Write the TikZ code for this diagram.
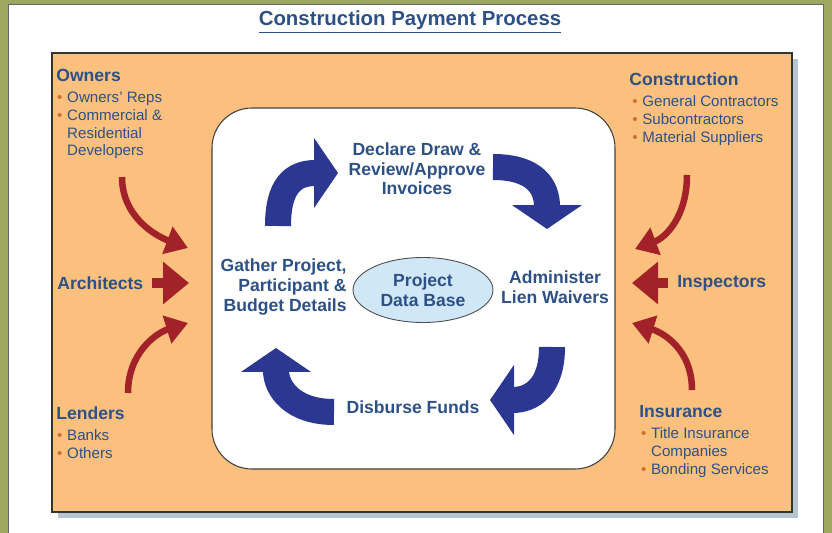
\documentclass[tikz,border=0pt]{standalone}
\usepackage{fontspec}
\setmainfont{Liberation Sans}
\usepackage{xcolor}
\usetikzlibrary{arrows.meta, positioning, shapes.geometric}

\definecolor{bgolive}{HTML}{9EA760}
\definecolor{panelorange}{HTML}{FBC07E}
\definecolor{shadowc}{HTML}{B7C5D2}
\definecolor{txtblue}{HTML}{2D5186}
\definecolor{arrblue}{HTML}{2B3791}
\definecolor{arrred}{HTML}{A3222A}
\definecolor{bulletc}{HTML}{D0702E}
\definecolor{dbblue}{HTML}{CFE7F6}

\newcommand\bul{\makebox[5.7pt][l]{\textcolor{bulletc}{\textbullet}}}
\newcommand\ind{\hspace*{5.7pt}}

\begin{document}
\begin{tikzpicture}[
  x=0.02cm, y=-0.02cm,
  head/.style={font=\fontsize{10}{12}\selectfont\bfseries, text=txtblue, inner sep=0pt},
  list/.style={font=\fontsize{8.6}{10.2}\selectfont, text=txtblue, inner sep=0pt, align=left},
  stage/.style={font=\fontsize{10}{11.2}\selectfont\bfseries, text=txtblue, inner sep=0pt, align=center},
  bluearr/.style={draw=arrblue, line width=0.52cm, -{Triangle[length=0.48cm, width=1.38cm]}},
  redarr/.style={draw=arrred, line width=0.13cm, -{Triangle[length=0.44cm, width=0.56cm]}},
  redfat/.style={draw=arrred, line width=0.2cm, -{Triangle[length=0.52cm, width=0.82cm]}}
]
  \useasboundingbox (0,0) rectangle (832,533);
  % frame
  \fill[bgolive] (0,0) rectangle (832,533);
  \filldraw[fill=white, draw=black!60, line width=0.4pt] (8,4) rectangle (823,540);
  \node[font=\fontsize{11.6}{14}\selectfont\bfseries, text=txtblue] (title) at (410,22)
        {\underline{Construction Payment Process}};

  % panels
  \fill[shadowc] (58,59) rectangle (798,518);
  \filldraw[fill=panelorange, draw=black!80, line width=0.6pt] (52,53) rectangle (792,512);
  \filldraw[fill=white, draw=black!75, line width=0.6pt, rounded corners=0.8cm]
        (212,108) rectangle (615,469);

  % participants
  \node[head, anchor=base west] (owners) at (56,82) {Owners};
  \node[list, below right=5pt and 0.5pt of owners.south west] (ownlist)
        {\bul Owners' Reps\\\bul Commercial \&\\\ind Residential\\\ind Developers};
  \node[head, anchor=base west] (constr) at (629,86) {Construction};
  \node[list, below right=5pt and 1.7pt of constr.south west] (conlist)
        {\bul General Contractors\\\bul Subcontractors\\\bul Material Suppliers};
  \node[head, anchor=base west] (lenders) at (56,420) {Lenders};
  \node[list, below right=5pt and 0.5pt of lenders.south west] (lenlist)
        {\bul Banks\\\bul Others};
  \node[head, anchor=base west] (insur) at (639,418) {Insurance};
  \node[list, below right=5pt and 1pt of insur.south west] (inslist)
        {\bul Title Insurance\\\ind Companies\\\bul Bonding Services};
  \node[head, anchor=west] (arch) at (57,283) {Architects};
  \node[head, anchor=west] (insp) at (677,283) {Inspectors};

  % process steps
  \node[stage] (declare) at (417,169) {Declare Draw \&\\Review/Approve\\Invoices};
  \node[stage, align=right, anchor=east] (gather) at (347,287)
        {Gather Project,\\Participant \&\\Budget Details};
  \node[stage] (admin) at (555,287) {Administer\\Lien Waivers};
  \node[stage] (disburse) at (413,407) {Disburse Funds};
  \node[stage, ellipse, draw=black!70, fill=dbblue, line width=0.5pt,
        minimum width=2.8cm, minimum height=1.3cm] (pdb) at (423,290) {Project\\Data Base};

  % cycle arrows
  \coordinate (c1s) at (278,226); \coordinate (c1e) at (338,173);
  \coordinate (c2s) at (493,167); \coordinate (c2e) at (547,229);
  \coordinate (c3s) at (552,347); \coordinate (c3e) at (490,400);
  \coordinate (c4s) at (334,412); \coordinate (c4e) at (276,348);
  \draw[bluearr] (c1s) .. controls +(0,-40) and +(-45,0) .. (c1e);
  \draw[bluearr] (c2s) .. controls +(42,0) and +(0,-42) .. (c2e);
  \draw[bluearr] (c3s) .. controls +(0,40) and +(42,0) .. (c3e);
  \draw[bluearr] (c4s) .. controls +(-42,0) and +(0,40) .. (c4e);

  % inflow arrows
  \coordinate (ownS) at (122,177); \coordinate (ownT) at (188,248);
  \coordinate (lenS) at (128,393); \coordinate (lenT) at (188,323);
  \coordinate (conS) at (687,175); \coordinate (conT) at (635,249);
  \coordinate (insS) at (692,390); \coordinate (insT) at (632,323);
  \coordinate (archT) at (189,283); \coordinate (inspT) at (632,283);
  \draw[redarr] (ownS) .. controls +(0,40) and +(-32,-12) .. (ownT);
  \draw[redarr] (lenS) .. controls +(0,-40) and +(-32,10) .. (lenT);
  \draw[redarr] (conS) .. controls +(0,40) and +(32,-12) .. (conT);
  \draw[redarr] (insS) .. controls +(0,-40) and +(32,10) .. (insT);
  \draw[redfat, shorten <=5pt] (arch.east) -- (archT);
  \draw[redfat, shorten <=5pt] (insp.west) -- (inspT);
\end{tikzpicture}
\end{document}
